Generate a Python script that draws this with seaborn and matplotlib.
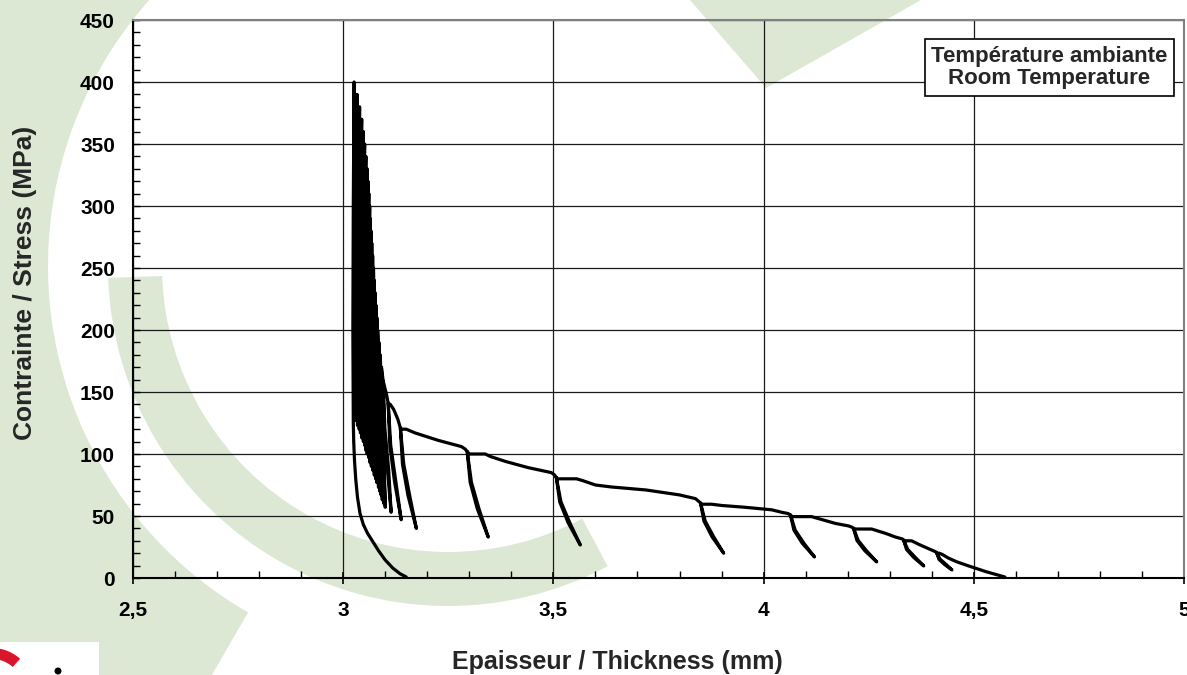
import numpy as np
import pandas as pd
import seaborn as sns
import matplotlib.pyplot as plt
from matplotlib.patches import Wedge, Polygon, Rectangle, Circle
from matplotlib.transforms import IdentityTransform
from matplotlib.ticker import MultipleLocator, FuncFormatter

# Loading ramps (thickness mm / stress MPa), each one ends at the top of a hold
ramp_x = [
    [4.574, 4.53, 4.488, 4.46, 4.44, 4.425, 4.418, 4.412],
    [4.41, 4.39, 4.37, 4.352, 4.338, 4.333],
    [4.33, 4.314, 4.29, 4.257, 4.219, 4.214],
    [4.21, 4.202, 4.171, 4.14, 4.114, 4.067, 4.064],
    [4.058, 4.043, 4.019, 3.957, 3.9, 3.876, 3.853, 3.85],
    [3.845, 3.838, 3.80, 3.72, 3.638, 3.60, 3.57, 3.555, 3.51, 3.507],
    [3.503, 3.495, 3.44, 3.386, 3.35, 3.338, 3.30, 3.295],
    [3.29, 3.281, 3.226, 3.171, 3.15, 3.14, 3.136],
    [3.13, 3.12, 3.112, 3.107],
    [3.103, 3.098, 3.095],
]
ramp_s = [
    [0.8, 5, 9.7, 13, 16, 19, 20, 20],
    [21, 24, 27, 30, 30, 30.5],
    [31.5, 33, 36, 39.5, 39.5, 40],
    [41, 42, 44, 47, 49.5, 49.5, 50.8],
    [52, 53, 55, 57, 58.5, 59.5, 59.5, 60.5],
    [62, 64, 67, 71, 73.4, 75, 78.5, 80, 80, 81],
    [83, 85, 89, 94, 98, 100, 100, 102],
    [104, 106, 111, 117, 120, 120, 121],
    [128, 136, 140, 141],
    [148, 155, 159],
]

# Unload legs after each hold (two inner points, then the bottom)
hook_m1_x = [4.417, 4.340, 4.222, 4.072, 3.858, 3.515, 3.302, 3.141, 3.111, 3.097]
hook_m1_s = [15.1, 23.0, 30.3, 38.7, 46.0, 61.4, 77.2, 91.8, 107, 121]
hook_m2_x = [4.430, 4.357, 4.241, 4.092, 3.877, 3.535, 3.319, 3.154, 3.122, 3.105]
hook_m2_s = [11.0, 16.6, 21.9, 28.0, 33.4, 44.6, 55.8, 66.7, 78, 88]
hook_bot_x = [4.448, 4.381, 4.269, 4.121, 3.905, 3.564, 3.345, 3.174, 3.138, 3.114]
hook_bot_s = [6.5, 9.7, 13, 17, 20, 26.6, 33, 40, 47, 53]
# Reload legs (slightly apart from the unload legs)
back_m2_x = [4.434, 4.361, 4.245, 4.096, 3.881, 3.539, 3.323, 3.158, 3.125, 3.108]
back_m1_x = [4.420, 4.343, 4.225, 4.075, 3.861, 3.518, 3.305, 3.144, 3.113, 3.099]

# Fast cycles near the peak (top of each cycle, then bottom)
dense_top_x = [3.091, 3.088, 3.085, 3.082, 3.080, 3.078, 3.076, 3.074, 3.072, 3.070, 3.068, 3.066,
               3.064, 3.063, 3.061, 3.059, 3.057, 3.054, 3.051, 3.048, 3.044, 3.039, 3.033]
dense_top_s = [170, 180, 190, 200, 210, 220, 230, 240, 250, 260, 270, 280,
               290, 300, 310, 320, 330, 340, 350, 360, 370, 380, 390]
dense_bot_x = [3.100, 3.097, 3.093, 3.090, 3.087, 3.084, 3.080, 3.077, 3.074, 3.070, 3.067, 3.064,
               3.061, 3.057, 3.054, 3.051, 3.048, 3.044, 3.041, 3.038, 3.034, 3.031, 3.028]
dense_bot_s = [57, 60, 63, 67, 70, 73, 77, 80, 83, 87, 90, 93,
               97, 100, 103, 107, 110, 113, 117, 120, 123, 127, 130]

# Final unloading from the peak
unload_x = [3.026, 3.024, 3.023, 3.024, 3.025, 3.027, 3.030, 3.034, 3.040, 3.048, 3.058,
            3.071, 3.085, 3.100, 3.118, 3.135, 3.150]
unload_s = [400, 300, 200, 126, 110, 94, 79, 65, 52, 43, 36, 29, 21.5, 14.5, 8, 3.5, 0.8]

xticks = [2.5, 3, 3.5, 4, 4.5, 5]
yticks = [0, 50, 100, 150, 200, 250, 300, 350, 400, 450]

# build the test path in time order
px_, ps_ = [], []
for i in range(len(ramp_x)):
    px_ += ramp_x[i]
    ps_ += ramp_s[i]
    tx, ts = ramp_x[i][-1], ramp_s[i][-1]
    px_ += [hook_m1_x[i], hook_m2_x[i], hook_bot_x[i], back_m2_x[i], back_m1_x[i], tx]
    ps_ += [hook_m1_s[i], hook_m2_s[i], hook_bot_s[i], hook_m2_s[i], hook_m1_s[i], ts]
for tx, ts, bx, bs in zip(dense_top_x, dense_top_s, dense_bot_x, dense_bot_s):
    px_ += [tx, bx]
    ps_ += [ts, bs]
px_ += unload_x
ps_ += unload_s
df = pd.DataFrame({"Epaisseur": px_, "Contrainte": ps_})

sns.set_theme(style="white")
plt.rcParams['font.family'] = ['Liberation Sans', 'DejaVu Sans']
plt.rcParams['font.weight'] = 'bold'

W, H = 1187, 675
fig = plt.figure(figsize=(W / 100, H / 100), dpi=100, facecolor='white')

# background watermark, in image pixels (y measured from the top)
green = '#dce8d3'
def P(x, y):
    return (x, H - y)

idt = IdentityTransform()
ctr = P(448, 266)
wm = [
    Wedge(ctr, 760, 100, 240, width=360),   # outer band
    Wedge(ctr, 340, 182, 298, width=54),    # inner "C"
    Polygon([P(690, 0), P(921, 0), P(766, 88)], closed=True),
]
for p in wm:
    p.set_transform(idt)
    p.set_facecolor(green)
    p.set_edgecolor('none')
    p.set_zorder(0)
    fig.add_artist(p)

# corner logo
logo = [Rectangle(P(0, 675), 99, 33, fc='white', ec='none'),
        Wedge(P(-8, 690), 42, 48, 100, width=11, fc='#d7162b', ec='none'),
        Circle(P(58, 671), 3.5, fc='black', ec='none')]
for p in logo:
    p.set_transform(idt)
    p.set_zorder(1)
    fig.add_artist(p)

ax = fig.add_axes([133 / W, 1 - 578 / H, (1184 - 133) / W, (578 - 20) / H])
ax.set_facecolor('none')
ax.set_zorder(2)

sns.lineplot(data=df, x="Epaisseur", y="Contrainte", sort=False, estimator=None,
             color='black', linewidth=2.3, ax=ax,
             solid_joinstyle='round', solid_capstyle='round')

ax.set_xlim(2.5, 5)
ax.set_ylim(0, 450)
ax.set_xticks(xticks)
ax.set_yticks(yticks)
ax.xaxis.set_minor_locator(MultipleLocator(0.1))
ax.yaxis.set_minor_locator(MultipleLocator(10))
ax.xaxis.set_major_formatter(FuncFormatter(lambda v, _: f"{v:g}".replace('.', ',')))
ax.grid(True, which='major', color='#1a1a1a', linewidth=0.9)
ax.set_axisbelow(True)

ax.tick_params(axis='x', which='major', direction='inout', length=9, width=1.2,
               pad=12, labelsize=15, colors='black')
ax.tick_params(axis='x', which='minor', direction='in', length=5, width=1, colors='black')
ax.tick_params(axis='y', which='major', direction='in', length=5, width=1,
               pad=13, labelsize=15, colors='black')
ax.tick_params(axis='y', which='minor', direction='in', length=5, width=1, colors='black')
ax.tick_params(bottom=True, left=True, which='both')
for lab in ax.get_xticklabels() + ax.get_yticklabels():
    lab.set_fontweight('bold')

for side in ['left', 'bottom']:
    ax.spines[side].set_color('black')
    ax.spines[side].set_linewidth(1.5)
for side in ['top', 'right']:
    ax.spines[side].set_color('#808080')
    ax.spines[side].set_linewidth(1.5)

ax.set_xlabel("")
ax.set_ylabel("")
fig.text(617 / W, 1 - 662 / H, "Epaisseur / Thickness (mm)", ha='center', va='center',
         fontsize=18, fontweight='bold')
fig.text(25 / W, 1 - 283 / H, "Contrainte / Stress (MPa)", ha='center', va='center',
         rotation=90, fontsize=19, fontweight='bold')

fig.text(1049.5 / W, 1 - 67.5 / H, "Température ambiante\nRoom Temperature",
         ha='center', va='center', fontsize=16, fontweight='bold', linespacing=1.1,
         zorder=5,
         bbox=dict(boxstyle='square,pad=0.3', fc='white', ec='black', lw=1.2))

fig.savefig("out.png", dpi=100, facecolor='white')
